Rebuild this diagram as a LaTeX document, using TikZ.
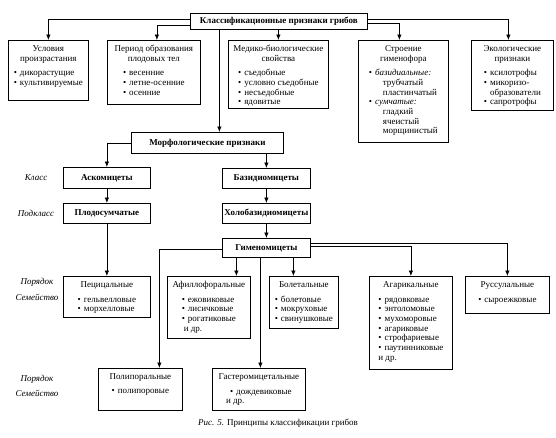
\documentclass[tikz,border=0pt]{standalone}
\usepackage{fontspec}
\setmainfont{Liberation Serif}
\usetikzlibrary{arrows.meta}
\setlength{\parskip}{0pt}
\newcommand\fsz{\fontsize{9}{9.7}\selectfont}
\newcommand\boxtext[3]{\parbox[t][#2][t]{#1}{\centering\fsz\rule{0pt}{11pt}\ignorespaces#3\par\vfill}}
\newcommand\blist[1]{\par\vspace{5pt}\begin{tabular}[t]{@{}l@{}}#1\end{tabular}\par}
\newcommand\bu{•\hspace{3pt}}
\newcommand\ind{\phantom{•}\hspace{3pt}}
\tikzset{
  frame/.style={draw, line width=0.75pt, inner sep=0pt, anchor=north west},
  bframe/.style={frame, font=\fsz\bfseries, align=center},
  conn/.style={line width=0.65pt},
  arr/.style={conn, -{Latex[length=5.5pt,width=4.5pt]}},
  lbl/.style={font=\fsz\itshape},
}
\begin{document}
\begin{tikzpicture}[x=1pt,y=-1pt]
\useasboundingbox (0,0) rectangle (556,437);

% top row
\node[bframe, minimum width=177pt, minimum height=16pt] (cls) at (190,13) {Классификационные признаки грибов};
\node[frame] (usl) at (8,40) {\boxtext{80pt}{60pt}{Условия\\произрастания\blist{\bu дикорастущие\\\bu культивируемые}}};
\node[frame] (per) at (107,40) {\boxtext{93pt}{64pt}{Период образования\\плодовых тел\blist{\bu весенние\\\bu летне-осенние\\\bu осенние}}};
\node[frame] (med) at (228,40) {\boxtext{100pt}{68pt}{Медико-биологические\\свойства\blist{\bu съедобные\\\bu условно съедобные\\\bu несъедобные\\\bu ядовитые}}};
\node[frame] (str) at (358,40) {\boxtext{90pt}{102pt}{Строение\\гименофора\blist{\bu \textit{базидиальные:}\\\hspace{14pt}трубчатый\\\hspace{14pt}пластинчатый\\\bu \textit{сумчатые:}\\\hspace{14pt}гладкий\\\hspace{14pt}ячеистый\\\hspace{14pt}морщинистый}}};
\node[frame] (eco) at (471,40) {\boxtext{82pt}{70pt}{Экологические\\признаки\blist{\bu ксилотрофы\\\bu микоризо-\\\ind образователи\\\bu сапротрофы}}};

% middle
\node[bframe, minimum width=152pt, minimum height=21pt] (morph) at (131,132) {Морфологические признаки};
\node[bframe, minimum width=87pt, minimum height=21pt] (asko) at (63,167) {Аскомицеты};
\node[bframe, minimum width=88pt, minimum height=20pt] (bazid) at (222,168) {Базидиомицеты};
\node[bframe, minimum width=87pt, minimum height=20pt] (plod) at (63,203) {Плодосумчатые};
\node[bframe, minimum width=88pt, minimum height=20pt] (holo) at (222,203) {Холобазидиомицеты};
\node[bframe, minimum width=88pt, minimum height=19pt] (gim) at (222,238) {Гименомицеты};

% orders
\node[frame] (pec) at (63,276) {\boxtext{87pt}{41pt}{Пецицальные\blist{\bu гельвелловые\\\bu морхелловые}}};
\node[frame] (afi) at (167,276) {\boxtext{83pt}{62pt}{Афиллофоральные\blist{\bu ежовиковые\\\bu лисичковые\\\bu рогатиковые\\\hspace{2pt}и др.}}};
\node[frame] (bol) at (269,276) {\boxtext{69pt}{52pt}{Болетальные\blist{\bu болетовые\\\bu мокруховые\\\bu свинушковые}}};
\node[frame] (aga) at (369,276) {\boxtext{83pt}{93pt}{Агарикальные\blist{\bu рядовковые\\\bu энтоломовые\\\bu мухоморовые\\\bu агариковые\\\bu строфариевые\\\bu паутинниковые\\и др.}}};
\node[frame] (rus) at (465,276) {\boxtext{84pt}{37pt}{Руссулальные\blist{\bu сыроежковые}}};
\node[frame] (pol) at (98,368) {\boxtext{84pt}{42pt}{Полипоральные\\[4pt]\bu полипоровые}};
\node[frame] (gas) at (212,368) {\boxtext{93pt}{42pt}{Гастеромицетальные\blist{\hspace{4pt}\bu дождевиковые\\и др.}}};

% side labels
\node[lbl] (lk) at (36,178) {Класс};
\node[lbl] (lpk) at (36,213) {Подкласс};
\node[lbl] (lp1) at (37,282) {Порядок};
\node[lbl] (ls1) at (37,297) {Семейство};
\node[lbl] (lp2) at (37,379) {Порядок};
\node[lbl] (ls2) at (37,393) {Семейство};

% caption
\node[font=\fsz] (cap) at (278,423) {\textit{Рис. 5.} Принципы классификации грибов};

% connectors
\draw[arr] ([yshift=2pt]cls.west) -| (usl.north);
\draw[arr] ([yshift=-4pt]cls.west) -| ([xshift=3pt]per.north);
\draw[arr] (cls.south -| med.north) -- (med.north);
\draw[arr] ([yshift=-2pt]cls.east) -| ([xshift=-4pt]str.north);
\draw[arr] ([yshift=2pt]cls.east) -| ([xshift=-4pt]eco.north);
\draw[arr] ([xshift=-59.5pt]cls.south) -- ([xshift=-59.5pt]cls.south |- morph.north);
\draw[arr] (morph.west) -| (asko.north);
\draw[arr] (morph.south -| bazid.north) -- (bazid.north);
\draw[arr] (asko.south) -- (plod.north);
\draw[arr] (bazid.south) -- (holo.north);
\draw[arr] (holo.south) -- (gim.north);
\draw[arr] (plod.south) -- (pec.north);
\draw[arr] ([xshift=-30pt]gim.south) -- ([xshift=-30pt]gim.south |- afi.north);
\draw[arr] ([xshift=27pt]gim.south) -- ([xshift=27pt]gim.south |- bol.north);
\draw[arr] ([xshift=-6pt]gim.south) -- ([xshift=-6pt]gim.south |- gas.north);
\draw[arr] ([yshift=-1.5pt]gim.west) -| ([xshift=19pt]pol.north);
\draw[arr] ([yshift=1.5pt]gim.east) -| (aga.north);
\draw[arr] ([yshift=4.5pt]gim.east) -| (rus.north);
\end{tikzpicture}
\end{document}
